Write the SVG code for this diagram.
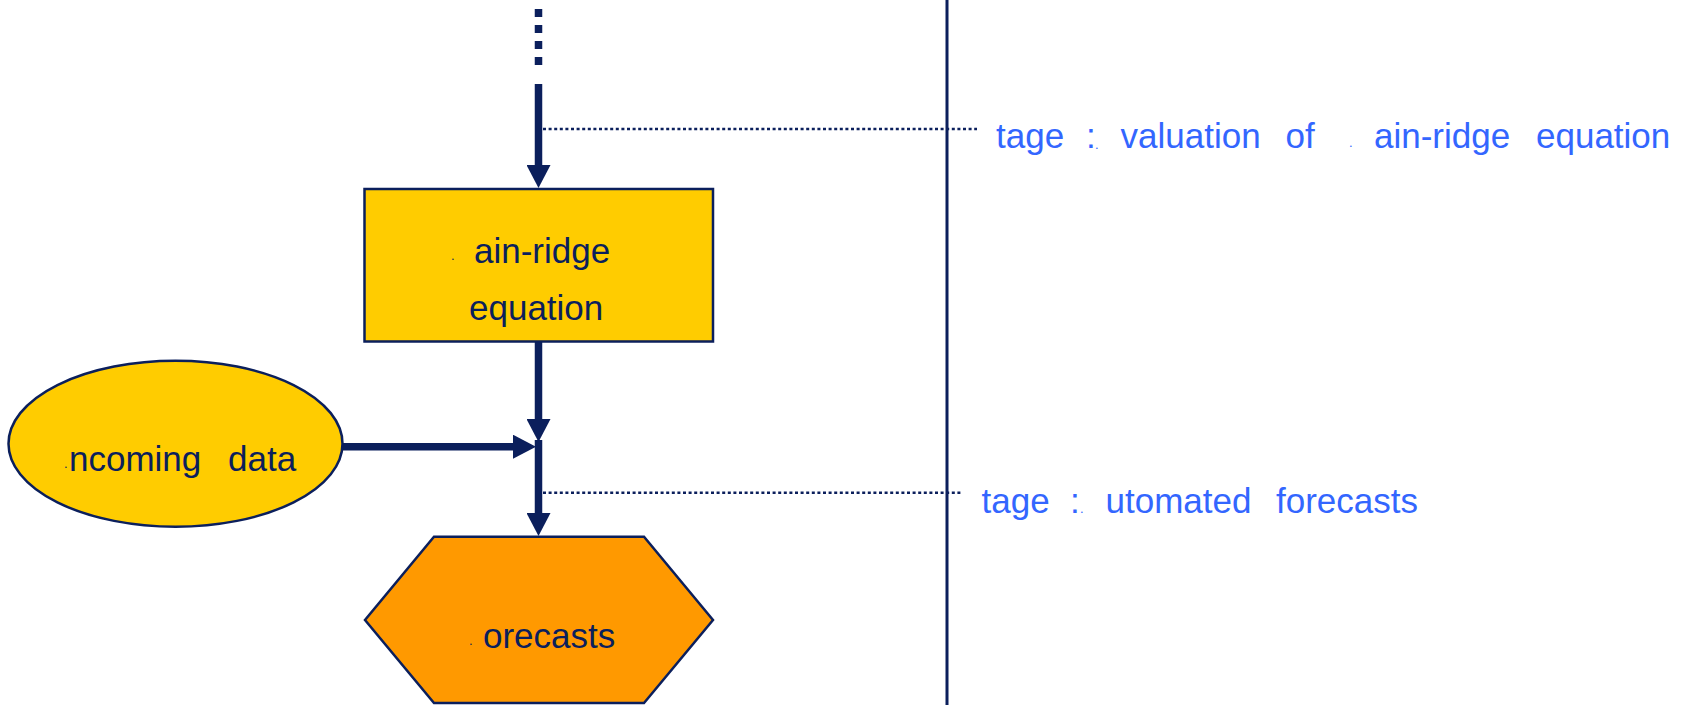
<svg xmlns="http://www.w3.org/2000/svg" width="1683" height="705" viewBox="0 0 1683 705">
<style>
.bg{fill:#ffffff}
.node{stroke:#0b1f5c;stroke-width:2.5}
.yel{fill:#ffcc00}
.org{fill:#ff9900}
.lbl{font-family:"Liberation Sans",Arial,sans-serif;font-size:35px;fill:#0b1f5c}
.blue{font-family:"Liberation Sans",Arial,sans-serif;font-size:35px;fill:#3366ff}
.tiny{font-family:"Liberation Sans",Arial,sans-serif;font-size:13px}
.flow{stroke:#0b1f5c;stroke-width:7.5;fill:none}
.dots{stroke:#0b1f5c;stroke-width:2.5;stroke-dasharray:3 2.6;fill:none}
.divider{stroke:#0b1f5c;stroke-width:3;fill:none}
</style>
<defs>
<marker id="ah" markerUnits="userSpaceOnUse" markerWidth="23" markerHeight="24" viewBox="0 0 23 24" refX="1" refY="12" orient="auto">
<path d="M0,0 L23,12 L0,24 Z" fill="#0b1f5c"/>
</marker>
</defs>
<rect class="bg" x="0" y="0" width="1683" height="705"/>

<g id="connectors">
<line class="flow" x1="538.5" y1="9" x2="538.5" y2="66" stroke-dasharray="8 8"/>
<line class="flow" x1="538.5" y1="84" x2="538.5" y2="166" marker-end="url(#ah)"/>
<line class="flow" x1="538.5" y1="341" x2="538.5" y2="420" marker-end="url(#ah)"/>
<line class="flow" x1="538.5" y1="440" x2="538.5" y2="514" marker-end="url(#ah)"/>
<line class="flow" x1="342" y1="446.7" x2="514" y2="446.7" marker-end="url(#ah)"/>
<line class="dots" x1="543" y1="129" x2="977" y2="129"/>
<line class="dots" x1="543" y1="492.7" x2="963" y2="492.7"/>
<line class="divider" x1="947" y1="0" x2="947" y2="705"/>
</g>

<g id="node-main-ridge">
<rect class="node yel" x="364.5" y="189" width="348.5" height="152.5"/>
<text class="tiny" x="451" y="260" fill="#0b1f5c">.</text>
<text class="lbl" x="474" y="263">ain-ridge</text>
<text class="lbl" x="469" y="320">equation</text>
</g>

<g id="node-incoming">
<ellipse class="node yel" cx="175.5" cy="443.7" rx="167" ry="83"/>
<text class="tiny" x="64" y="468" fill="#0b1f5c">.</text>
<text class="lbl" x="69" y="470.7">ncoming</text>
<text class="lbl" x="228" y="470.7">data</text>
</g>

<g id="node-forecasts">
<polygon class="node org" points="434,536.7 644,536.7 713,620 644,703 434,703 365,620"/>
<text class="tiny" x="469" y="645" fill="#0b1f5c">.</text>
<text class="lbl" x="483" y="647.7">orecasts</text>
</g>

<g id="label-stage-top">
<text class="blue" x="996" y="148.3">tage</text>
<text class="blue" x="1086" y="148.3">:</text>
<text class="tiny" x="1095" y="149" fill="#3366ff">.</text>
<text class="blue" x="1120.5" y="148.3">valuation</text>
<text class="blue" x="1285.5" y="148.3">of</text>
<text class="tiny" x="1349" y="147" fill="#3366ff">.</text>
<text class="blue" x="1374" y="148.3">ain-ridge</text>
<text class="blue" x="1536" y="148.3">equation</text>
</g>

<g id="label-stage-bottom">
<text class="blue" x="981.5" y="512.7">tage</text>
<text class="blue" x="1070" y="512.7">:</text>
<text class="tiny" x="1080" y="513" fill="#3366ff">.</text>
<text class="blue" x="1105.5" y="512.7">utomated</text>
<text class="blue" x="1276" y="512.7">forecasts</text>
</g>
</svg>
